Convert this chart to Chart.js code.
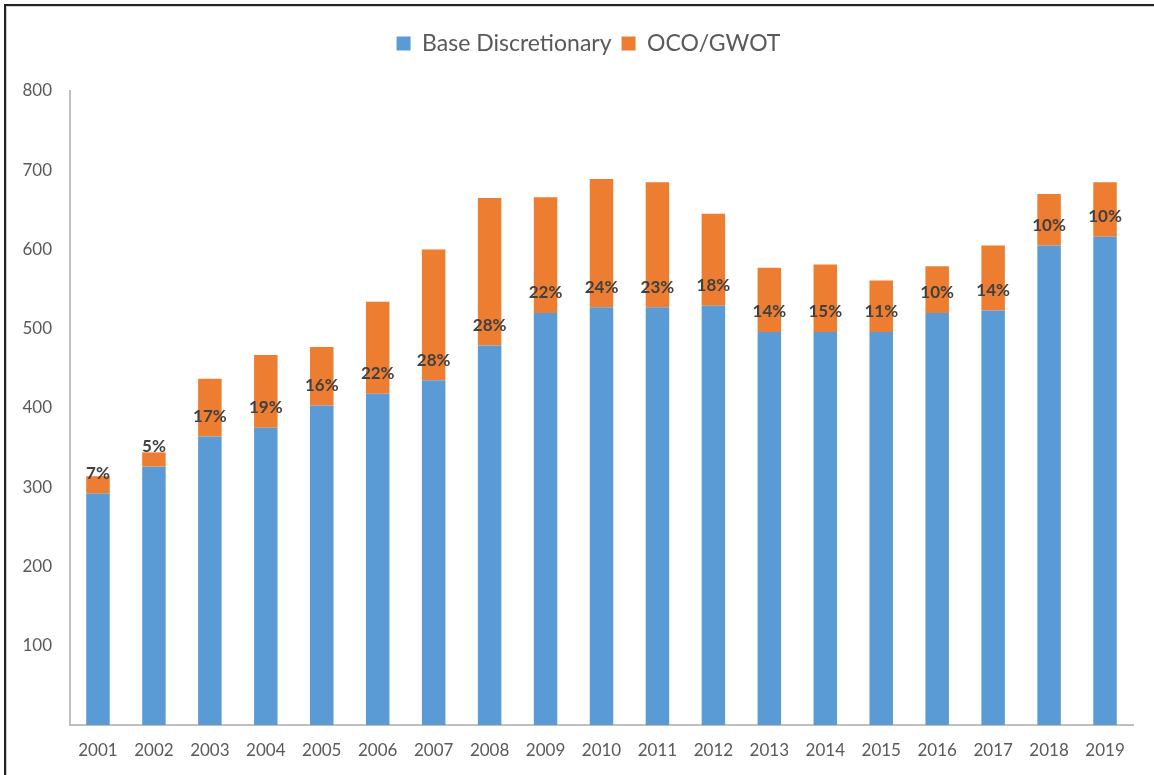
<!DOCTYPE html>
<html>
<head>
<meta charset="utf-8">
<script src="https://cdn.jsdelivr.net/npm/chart.js@4.4.1/dist/chart.umd.min.js"></script>
<style>
  html, body { margin: 0; padding: 0; background: #fff; }
  #wrap { position: relative; width: 1154px; height: 775px; overflow: hidden; }
  #frame {
    position: absolute; left: 4px; top: 4px; width: 1200px; height: 800px;
    border-left: 2px solid #222; border-top: 2px solid #222;
    box-shadow: inset 1px 1px 0 #d0d0d0; pointer-events: none;
  }
</style>
</head>
<body>
<div id="wrap">
  <canvas id="chart" width="1154" height="775"></canvas>
  <div id="frame"></div>
</div>
<script>
const years = ['2001', '2002', '2003', '2004', '2005', '2006', '2007', '2008', '2009', '2010',
               '2011', '2012', '2013', '2014', '2015', '2016', '2017', '2018', '2019'];
const baseDiscretionary = [292, 326, 364, 375, 403, 418, 435, 479, 520, 527, 527, 529, 496, 496, 496, 520, 523, 605, 616];
const ocoGwot = [22, 18, 73, 92, 74, 116, 165, 186, 146, 162, 158, 116, 81, 85, 65, 59, 82, 65, 69];
const ocoShare = ['7%', '5%', '17%', '19%', '16%', '22%', '28%', '28%', '22%', '24%',
                  '23%', '18%', '14%', '15%', '11%', '10%', '14%', '10%', '10%'];

const blue = '#5b9bd5';
const orange = '#ed7d31';
const axisGray = '#bfbfbf';
const textGray = '#595959';

Chart.defaults.font.family = 'Lato, "Open Sans", sans-serif';

// share labels sit just above the base of the orange segment
const shareLabels = {
  id: 'shareLabels',
  afterDatasetsDraw(chart) {
    const ctx = chart.ctx;
    const meta = chart.getDatasetMeta(1);
    ctx.save();
    ctx.font = 'bold 17px Lato, "Open Sans", sans-serif';
    ctx.fillStyle = '#404040';
    ctx.textAlign = 'center';
    ctx.textBaseline = 'middle';
    meta.data.forEach(function(bar, i) {
      ctx.fillText(ocoShare[i], bar.x, bar.base - 20);
    });
    ctx.restore();
  }
};

new Chart(document.getElementById('chart'), {
  type: 'bar',
  data: {
    labels: years,
    datasets: [{
      label: 'Base Discretionary',
      data: baseDiscretionary,
      backgroundColor: blue,
      categoryPercentage: 1,
      barPercentage: 0.42
    }, {
      label: 'OCO/GWOT',
      data: ocoGwot,
      backgroundColor: orange,
      categoryPercentage: 1,
      barPercentage: 0.42
    }]
  },
  options: {
    responsive: false,
    animation: false,
    layout: { padding: { left: 20, right: -3, top: 22, bottom: 0 } },
    plugins: {
      legend: {
        position: 'top',
        labels: {
          boxWidth: 14,
          boxHeight: 14,
          padding: 10,
          color: textGray,
          font: { size: 23 }
        }
      },
      // empty spacer between legend and plot
      subtitle: {
        display: true,
        text: '',
        position: 'top',
        weight: 500,
        font: { size: 10, lineHeight: 1 },
        padding: { top: 0, bottom: 16 }
      },
      tooltip: { enabled: false }
    },
    scales: {
      x: {
        stacked: true,
        grid: { display: false, drawTicks: false },
        border: { color: axisGray, width: 2 },
        ticks: { color: textGray, font: { size: 17 }, padding: 15 },
        afterFit: function(scale) { scale.height = 50; }
      },
      y: {
        stacked: true,
        min: 0,
        max: 800,
        grid: { display: false, drawTicks: false },
        border: { color: axisGray, width: 2 },
        ticks: {
          stepSize: 100,
          color: textGray,
          font: { size: 17 },
          padding: 18,
          callback: function(value) { return value === 0 ? '' : value; }
        },
        afterFit: function(scale) { scale.width = 50; }
      },
      // blank right margin
      y2: {
        position: 'right',
        grid: { display: false, drawTicks: false },
        border: { display: false },
        ticks: { display: false },
        afterFit: function(scale) { scale.width = 24; }
      }
    }
  },
  plugins: [shareLabels]
});
</script>
</body>
</html>
